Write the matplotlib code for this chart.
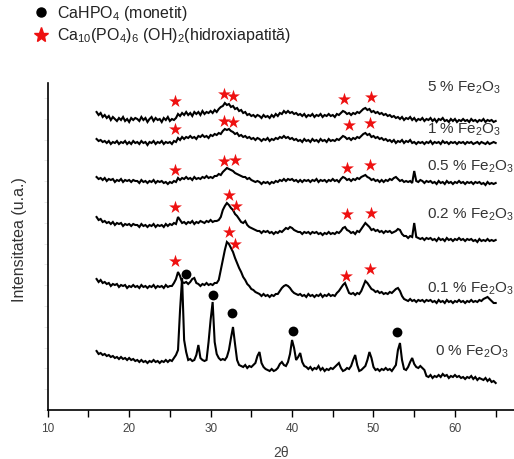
import numpy as np
import matplotlib
matplotlib.use("Agg")
import matplotlib.pyplot as plt
from matplotlib.lines import Line2D

plt.rcParams['font.family'] = ['Liberation Sans', 'DejaVu Sans']
plt.rcParams['mathtext.fontset'] = 'custom'
plt.rcParams['mathtext.rm'] = 'Liberation Sans'
plt.rcParams['mathtext.it'] = 'Liberation Sans:italic'

# 2-theta measurement grid (0.25 deg steps from 16 to 65)
two_theta = np.arange(16.0, 65.001, 0.25)

# Intensities (arbitrary units, stacked as in the figure)
i_5 = [
    298, 295, 297, 293, 295, 292, 294, 290, 293, 291, 289, 292, 290, 293, 289, 291, 288, 292, 290, 292,
    291, 289, 293, 290, 292, 288, 291, 293, 289, 292, 290, 291, 288, 292, 290, 293, 289, 291, 290, 292,
    296, 294, 297, 295, 298, 295, 297, 294, 298, 296, 298, 295, 299, 296, 298, 297, 299, 297, 300, 298,
    301, 303, 304, 307, 305, 306, 303, 304, 301, 302, 299, 300, 297, 298, 295, 296, 294, 295, 293, 295,
    294, 292, 295, 293, 294, 292, 295, 293, 296, 294, 297, 296, 299, 297, 299, 297, 298, 296, 297, 295,
    296, 294, 296, 293, 295, 294, 296, 293, 295, 294, 296, 293, 295, 294, 296, 294, 295, 293, 296, 295,
    297, 299, 298, 296, 297, 295, 297, 296, 298, 297, 299, 301, 302, 300, 301, 298, 299, 297, 298, 296,
    297, 295, 296, 294, 295, 293, 294, 292, 293, 291, 293, 290, 292, 291, 293, 290, 292, 289, 291, 290,
    292, 289, 291, 290, 292, 289, 291, 288, 291, 290, 292, 289, 290, 288, 291, 289, 291, 288, 290, 289,
    291, 289, 290, 288, 291, 289, 290, 288, 290, 289, 291, 288, 290, 289, 290, 288, 289]
i_1 = [
    271, 269, 270, 268, 269, 267, 269, 266, 268, 267, 269, 266, 268, 267, 269, 266, 268, 266, 269, 267,
    268, 266, 269, 267, 268, 265, 268, 267, 269, 266, 268, 267, 269, 266, 268, 267, 268, 266, 269, 268,
    272, 270, 273, 271, 273, 272, 274, 272, 273, 271, 274, 273, 275, 273, 274, 272, 275, 274, 276, 275,
    277, 276, 279, 281, 280, 281, 279, 278, 276, 277, 274, 275, 273, 274, 272, 273, 271, 272, 270, 272,
    271, 269, 271, 270, 272, 269, 271, 270, 272, 271, 273, 272, 274, 272, 273, 271, 272, 270, 271, 269,
    270, 268, 271, 269, 270, 268, 271, 269, 270, 268, 271, 269, 270, 268, 271, 269, 270, 269, 271, 270,
    272, 274, 273, 271, 272, 270, 272, 271, 273, 272, 274, 276, 277, 275, 276, 273, 274, 272, 273, 271,
    272, 270, 271, 269, 270, 268, 270, 267, 269, 268, 270, 267, 269, 268, 270, 267, 268, 266, 268, 267,
    268, 266, 268, 267, 269, 266, 268, 267, 268, 266, 269, 267, 268, 266, 268, 267, 268, 266, 268, 267,
    268, 266, 268, 267, 268, 266, 267, 268, 266, 268, 267, 266, 268, 266, 267, 268, 267]
i_05 = [
    233, 231, 232, 230, 232, 229, 231, 230, 231, 228, 230, 229, 231, 228, 230, 229, 230, 228, 230, 229,
    229, 227, 230, 228, 229, 227, 229, 228, 230, 227, 229, 228, 229, 227, 228, 226, 228, 227, 229, 228,
    232, 230, 232, 231, 233, 231, 232, 230, 233, 231, 232, 231, 233, 232, 234, 232, 233, 232, 234, 234,
    236, 235, 238, 240, 242, 241, 240, 239, 237, 236, 235, 234, 233, 233, 231, 232, 230, 229, 228, 229,
    228, 226, 228, 227, 228, 226, 228, 227, 229, 228, 230, 229, 231, 229, 231, 230, 231, 229, 230, 228,
    230, 228, 230, 229, 230, 228, 230, 229, 231, 228, 230, 229, 230, 228, 230, 229, 231, 229, 230, 228,
    231, 233, 232, 230, 231, 229, 231, 230, 232, 231, 233, 234, 235, 233, 232, 230, 231, 229, 230, 228,
    230, 228, 230, 229, 231, 230, 232, 233, 231, 229, 230, 228, 229, 228, 229, 227, 239, 229, 228, 230,
    229, 227, 229, 228, 229, 227, 228, 226, 229, 227, 228, 226, 229, 227, 228, 226, 228, 227, 229, 227,
    228, 226, 228, 227, 228, 226, 228, 227, 228, 226, 227, 225, 228, 226, 227, 226, 227]
i_02 = [
    193, 190, 191, 188, 189, 187, 188, 186, 188, 185, 187, 186, 187, 184, 186, 185, 186, 184, 186, 185,
    185, 183, 186, 184, 185, 183, 185, 184, 186, 183, 185, 184, 185, 183, 186, 184, 186, 185, 187, 186,
    193, 190, 187, 188, 186, 188, 187, 189, 186, 188, 187, 189, 188, 187, 189, 188, 190, 188, 189, 189,
    190, 193, 200, 204, 207, 205, 202, 200, 196, 194, 191, 188, 187, 189, 185, 183, 182, 181, 180, 179,
    179, 177, 179, 178, 179, 177, 178, 176, 178, 177, 179, 178, 180, 182, 181, 183, 182, 180, 179, 178,
    178, 176, 178, 177, 178, 176, 178, 177, 178, 176, 177, 175, 177, 176, 178, 176, 177, 176, 178, 177,
    179, 182, 183, 180, 179, 177, 178, 176, 179, 178, 181, 184, 187, 185, 183, 180, 181, 179, 180, 178,
    179, 177, 179, 178, 179, 177, 178, 179, 181, 180, 176, 174, 174, 172, 174, 173, 187, 173, 172, 171,
    172, 170, 172, 171, 172, 170, 171, 169, 172, 170, 171, 169, 172, 170, 171, 169, 171, 170, 172, 170,
    171, 169, 171, 170, 171, 169, 170, 168, 171, 169, 170, 169, 171, 169, 170, 169, 170]
i_01 = [
    131, 128, 130, 127, 128, 126, 127, 124, 126, 125, 126, 123, 125, 124, 125, 122, 124, 123, 125, 123,
    124, 122, 125, 123, 124, 122, 124, 123, 125, 122, 124, 123, 124, 122, 125, 123, 124, 124, 127, 131,
    138, 134, 128, 127, 128, 126, 128, 131, 132, 127, 126, 124, 126, 125, 127, 125, 126, 125, 127, 127,
    130, 140, 150, 160, 168, 166, 162, 158, 152, 147, 142, 138, 133, 130, 126, 124, 121, 120, 118, 117,
    116, 114, 116, 114, 115, 113, 115, 114, 116, 116, 119, 122, 124, 125, 124, 122, 119, 117, 116, 115,
    116, 114, 115, 113, 116, 114, 115, 113, 115, 114, 116, 113, 115, 114, 116, 114, 115, 114, 117, 119,
    122, 125, 127, 122, 117, 116, 117, 115, 117, 116, 119, 124, 129, 127, 124, 121, 120, 118, 119, 117,
    118, 116, 117, 116, 118, 117, 119, 121, 122, 119, 114, 111, 110, 109, 111, 109, 110, 108, 110, 109,
    110, 108, 110, 109, 110, 108, 109, 107, 110, 108, 109, 107, 110, 108, 109, 107, 109, 108, 110, 108,
    109, 107, 109, 108, 110, 108, 109, 108, 110, 109, 111, 112, 113, 111, 109, 107, 107]
i_0 = [
    59, 56, 57, 55, 56, 54, 55, 53, 54, 52, 53, 51, 53, 51, 52, 50, 52, 50, 51, 49,
    50, 48, 50, 48, 49, 47, 49, 48, 50, 48, 49, 47, 49, 48, 50, 48, 50, 49, 52, 55,
    60, 100, 132, 70, 58, 50, 51, 49, 50, 55, 65, 52, 50, 49, 50, 68, 90, 108, 68, 56,
    52, 50, 51, 50, 53, 60, 72, 83, 66, 50, 45, 44, 43, 45, 42, 44, 43, 45, 47, 54,
    58, 47, 43, 41, 40, 39, 41, 39, 40, 42, 46, 48, 45, 44, 48, 56, 70, 62, 50, 53,
    57, 48, 44, 43, 41, 43, 40, 42, 41, 44, 40, 42, 39, 41, 40, 42, 41, 43, 45, 47,
    42, 39, 40, 42, 41, 44, 50, 55, 45, 39, 40, 42, 44, 50, 58, 52, 43, 40, 41, 39,
    41, 40, 42, 40, 41, 39, 42, 45, 60, 67, 50, 41, 40, 43, 48, 52, 46, 43, 42, 44,
    42, 40, 34, 33, 35, 32, 34, 33, 35, 33, 36, 34, 35, 32, 34, 33, 35, 33, 34, 32,
    33, 31, 33, 32, 34, 31, 33, 30, 32, 31, 30, 32, 29, 31, 28, 29, 27]

series = [i_5, i_1, i_05, i_02, i_01, i_0]
labels = [r'5 % Fe$_2$O$_3$', r'1 % Fe$_2$O$_3$', r'0.5 % Fe$_2$O$_3$',
          r'0.2 % Fe$_2$O$_3$', r'0.1 % Fe$_2$O$_3$', r'0 % Fe$_2$O$_3$']
label_theta = [56.6, 56.6, 56.6, 56.6, 56.6, 57.6]
label_int = [322, 280, 243, 195, 121, 58]

# Hydroxyapatite peak markers (2theta, marker height)
hap_theta = [25.63, 31.65, 32.71, 46.38, 49.66,
             25.63, 31.65, 32.71, 46.99, 49.57,
             25.63, 31.65, 33.00, 46.78, 49.57,
             25.63, 32.26, 33.08, 46.78, 49.66,
             25.63, 32.26, 33.00, 46.59, 49.57]
hap_int = [309, 316, 314, 311, 313,
           281, 289, 288, 285, 287,
           240, 249, 250, 242, 245,
           203, 215, 204, 196, 197,
           149, 178, 166, 134, 141]
# Monetite peak markers
mon_theta = [26.98, 30.26, 32.66, 40.08, 52.92]
mon_int = [136, 115, 97, 79, 78]

fig = plt.figure(figsize=(5.14, 4.59), dpi=100)
ax = fig.add_axes([47.7 / 514, 49 / 459, (514 - 47.7) / 514, 327 / 459])

for y in series:
    ax.plot(two_theta, y, color='black', lw=1.5, solid_joinstyle='miter')

ax.scatter(hap_theta, hap_int, marker='*', s=95, color='#ee1111', linewidths=0, zorder=5)
ax.scatter(mon_theta, mon_int, marker='o', s=50, color='black', linewidths=0, zorder=5)

for lab, tx, ty in zip(labels, label_theta, label_int):
    ax.text(tx, ty, lab, fontsize=11, color='#333333', va='center', ha='left')

ax.set_xlim(10, 67.25)
ax.set_ylim(0, 327)
ax.spines['top'].set_visible(False)
ax.spines['right'].set_visible(False)
ax.spines['left'].set_linewidth(1.2)
ax.spines['bottom'].set_linewidth(1.2)
ax.set_xticks(np.arange(10, 66, 10))
ax.set_xticks(np.arange(15, 66, 10), minor=True)
ax.tick_params(axis='x', which='both', direction='out', length=5, width=1.0,
               labelsize=8.5, labelcolor='#444444', pad=4)
ax.set_yticks(np.arange(0, 327, 20.8))
ax.tick_params(axis='y', which='major', direction='out', length=3, width=0.6,
               color='#e4e4e4', labelleft=False)
ax.set_xlabel('2θ', fontsize=10, color='#444444', labelpad=8)
ax.set_ylabel('Intensitatea (u.a.)', fontsize=11.5, color='#333333')
ax.yaxis.set_label_coords(-0.045, 0.52)

handles = [Line2D([], [], marker='o', ls='none', color='black', markersize=6.5),
           Line2D([], [], marker='*', ls='none', color='#ee1111', markersize=11)]
leg_labels = [r'CaHPO$_4$ (monetit)', r'Ca$_{10}$(PO$_4$)$_6$ (OH)$_2$(hidroxiapatită)']
fig.legend(handles, leg_labels, loc='upper left', bbox_to_anchor=(0.065, 1.0 - 4 / 459),
           frameon=False, fontsize=11.5, handlelength=1.0, handletextpad=0.5,
           labelspacing=0.2, borderaxespad=0, borderpad=0, labelcolor='#222222')

fig.savefig('out.png', dpi=100)
